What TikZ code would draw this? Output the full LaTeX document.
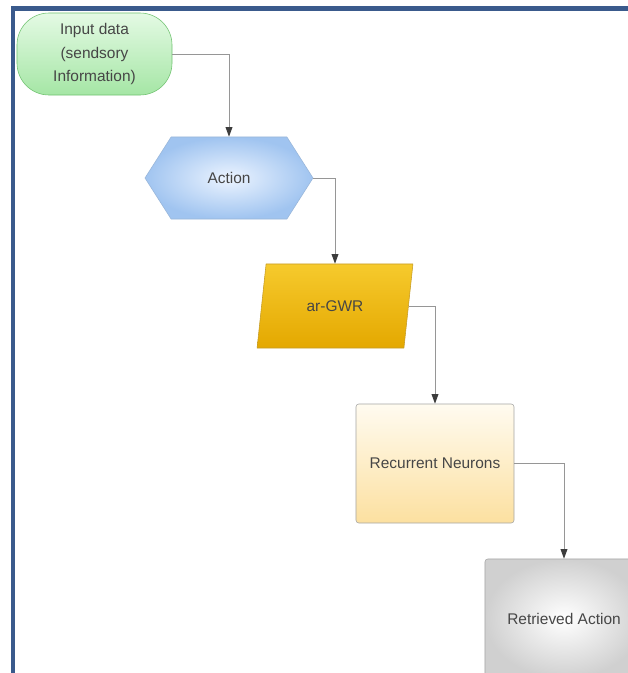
\documentclass[tikz,border=0pt]{standalone}
\usepackage{fontspec}
\setmainfont{Liberation Sans}
\usepackage{tikz}
\usepackage{xcolor}
\usetikzlibrary{positioning,shapes.geometric,shapes.symbols,arrows.meta}
\definecolor{frameblue}{RGB}{58,90,140}
\definecolor{txtgray}{RGB}{70,70,70}
\definecolor{linegray}{RGB}{150,150,150}
\definecolor{tipgray}{RGB}{60,60,60}
\definecolor{inputtop}{RGB}{228,250,228}
\definecolor{inputbot}{RGB}{165,230,165}
\definecolor{actionin}{RGB}{236,244,255}
\definecolor{actionout}{RGB}{160,196,240}
\definecolor{gwrtop}{RGB}{246,202,45}
\definecolor{gwrbot}{RGB}{228,168,0}
\definecolor{rectop}{RGB}{255,251,240}
\definecolor{recbot}{RGB}{252,224,160}
\definecolor{retout}{RGB}{208,208,208}

\begin{document}
\begin{tikzpicture}[x=0.025cm,y=-0.025cm,
    lbl/.style={text=txtgray,align=center,font=\fontsize{11}{17}\selectfont},
    flow/.style={draw=linegray,line width=0.7pt,-{Triangle[length=2.4mm,width=1.7mm,color=tipgray]}}]
            \path[use as bounding box,clip] (0,0) rectangle (628,673);
            \draw[frameblue,line width=3.2pt] (13,673) -- (13,8.5) -- (628,8.5);
            \node[lbl,draw=green!40!gray!80,rounded corners=0.8cm,minimum width=3.875cm,minimum height=2.05cm,
                top color=inputtop,bottom color=inputbot] 
                (input) at (94.5,54) {Input data\\(sendsory\\Information)};
            \node[lbl,draw=actionout!80!gray,shape=signal,signal to=west and east,signal pointer angle=115,
                minimum width=4.2cm,minimum height=2.05cm,inner xsep=0pt,inner color=actionin,outer color=actionout] 
                (action) at (229,178) {Action};
            \node[lbl,draw=gwrbot!70!gray,trapezium,trapezium left angle=78,trapezium right angle=102,trapezium stretches=true,
                minimum width=3.9cm,minimum height=2.1cm,top color=gwrtop,bottom color=gwrbot] 
                (gwr) at (335,306) {ar-GWR};
            \node[lbl,draw=gray!70,rounded corners=2pt,minimum width=3.95cm,minimum height=2.975cm,
                top color=rectop,bottom color=recbot] 
                (recurrent) at (435,463.5) {Recurrent Neurons};
            \node[lbl,draw=gray!70,rounded corners=2pt,minimum width=3.95cm,minimum height=2.975cm,
                inner color=white,outer color=retout] 
                (retrieved) at (564,618.5) {Retrieved Action};
            \draw[flow] (input.east) -| (action.north);
            \draw[flow] (action.east) -| (gwr.north);
            \draw[flow] (gwr.east) -| (recurrent.north);
            \draw[flow] (recurrent.east) -| (retrieved.north);
        \end{tikzpicture}
\end{document}
